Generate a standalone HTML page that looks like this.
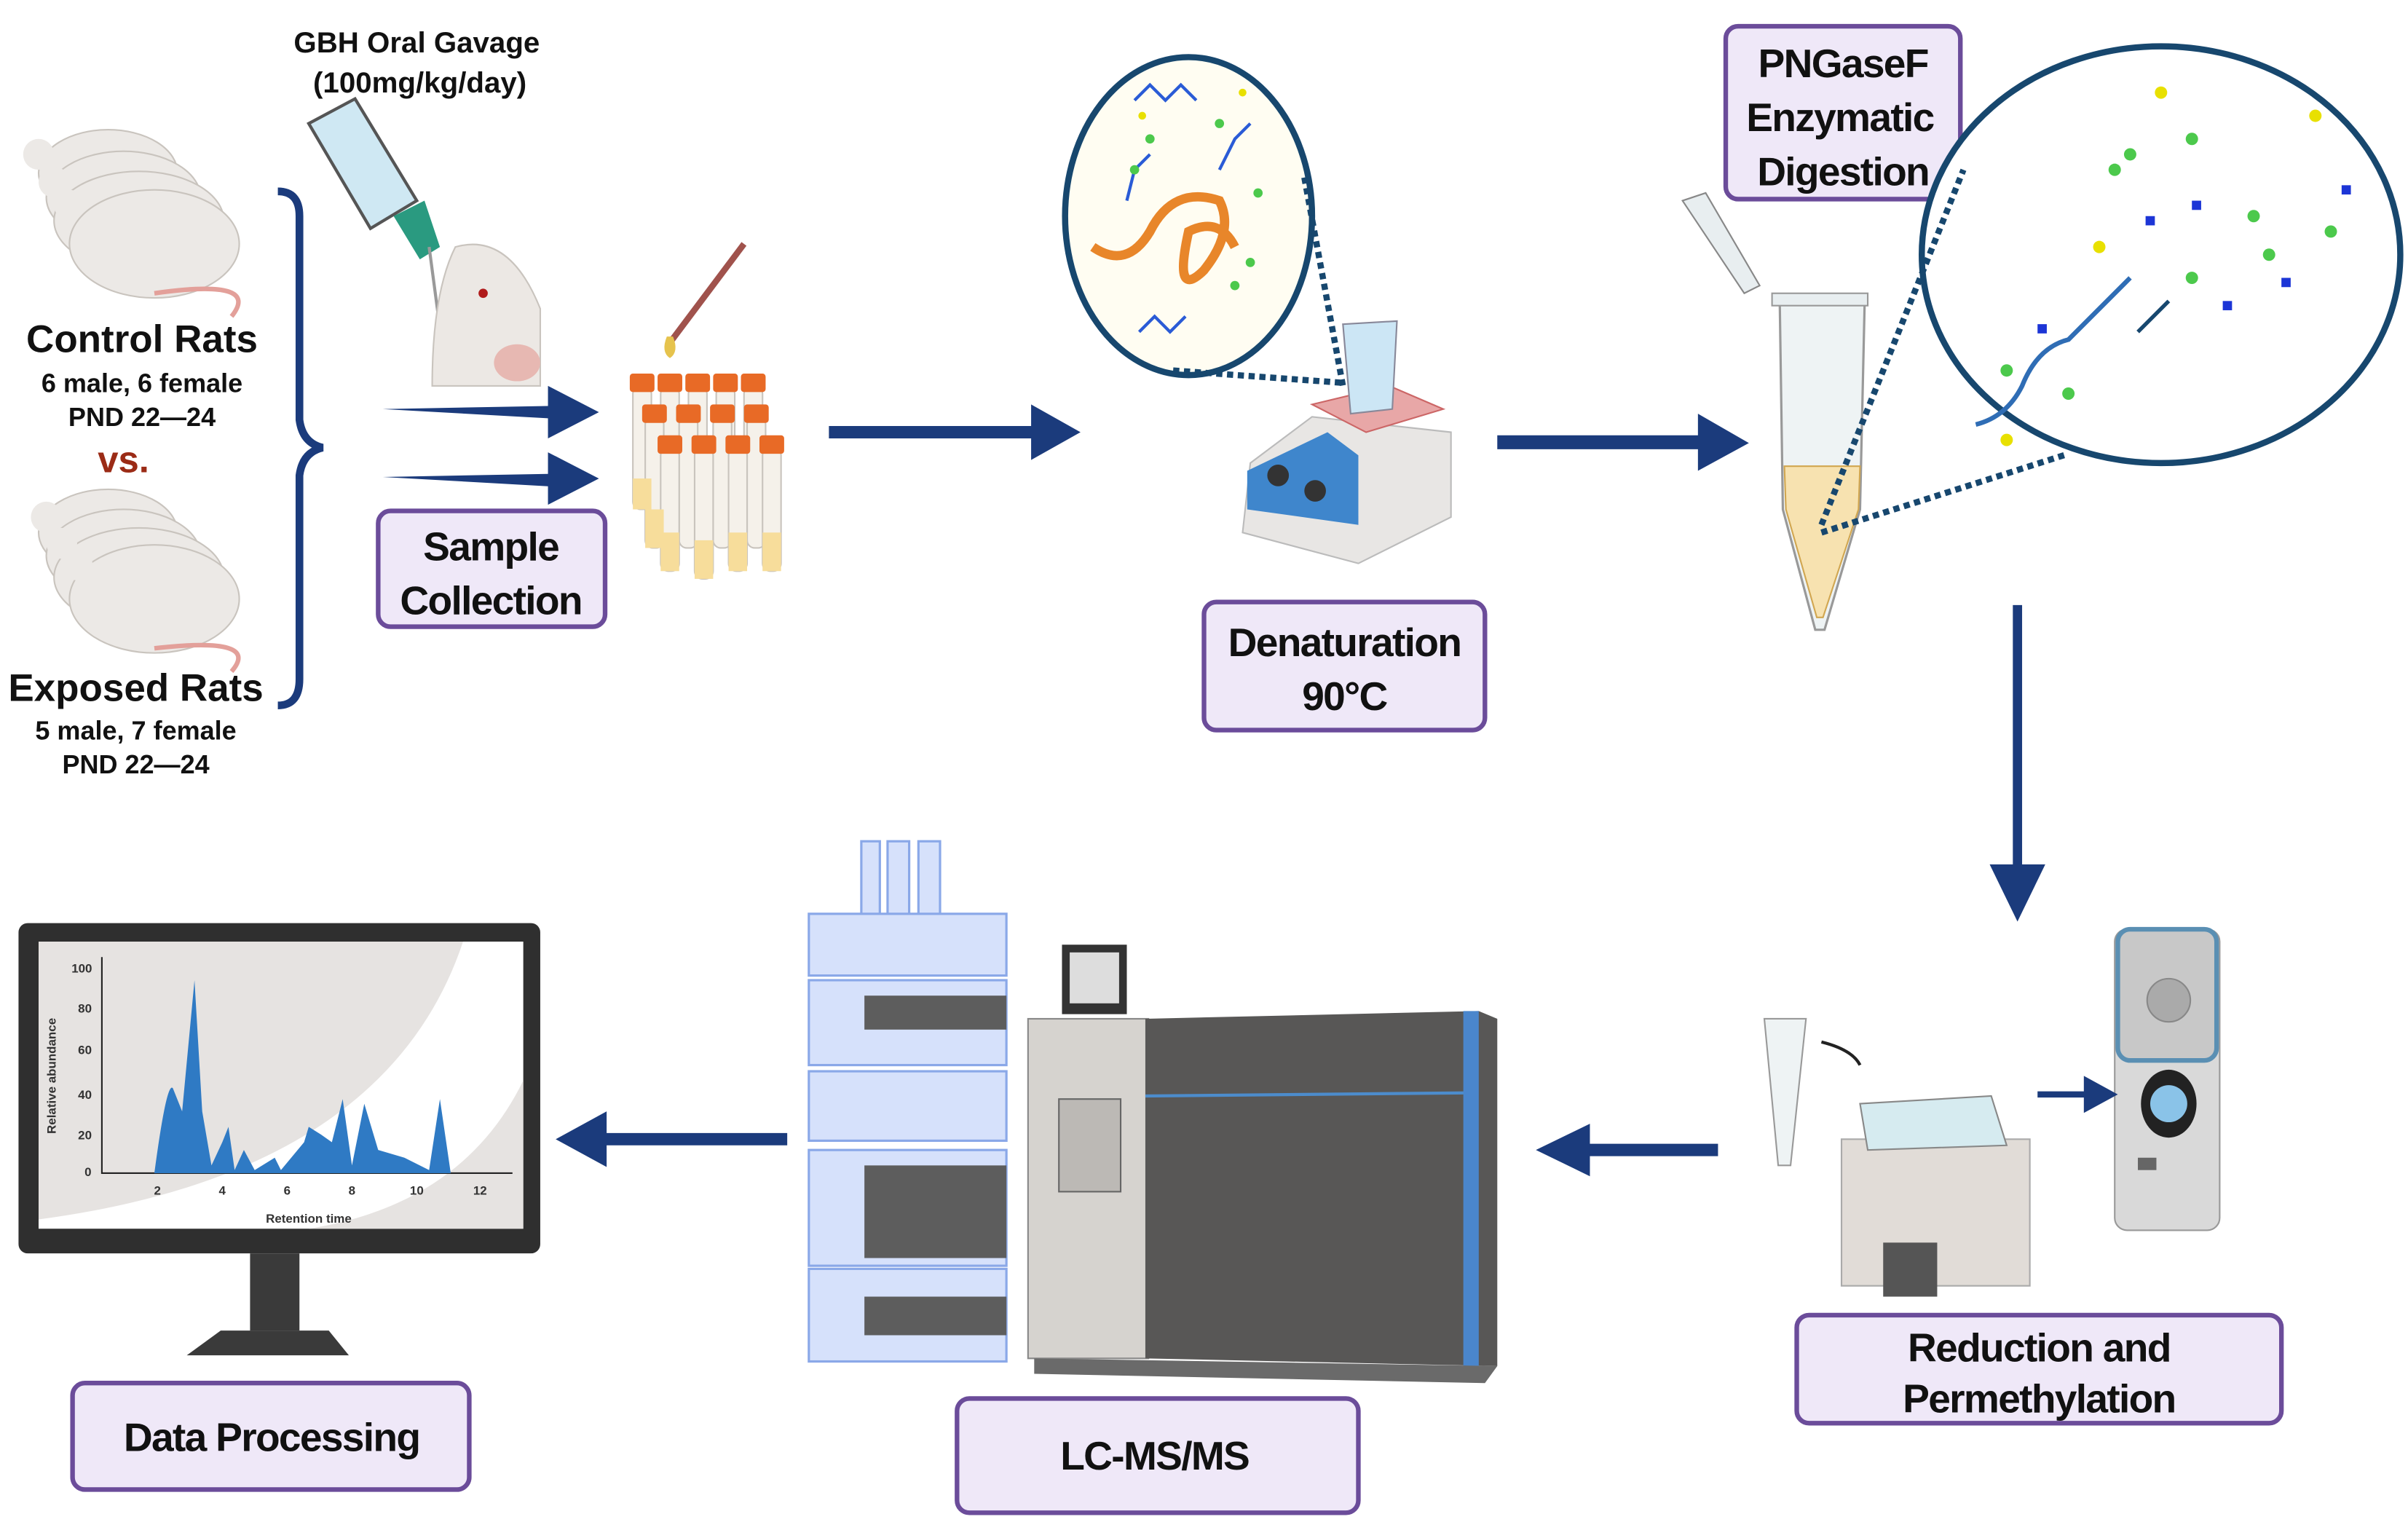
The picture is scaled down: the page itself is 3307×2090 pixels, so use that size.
<!DOCTYPE html>
<html><head><meta charset="utf-8"><style>
html,body{margin:0;padding:0;background:#fff;}
svg{display:block;}
text{font-family:"Liberation Sans",sans-serif;font-weight:bold;}
.bx{fill:#efe8f8;stroke:#6b4c9a;stroke-width:3;}
.lb{font-size:26px;fill:#111;text-anchor:middle;font-weight:bold;letter-spacing:-0.8px;}
.ar{fill:#1b3b7c;}
</style></head><body>
<svg width="3307" height="2090" viewBox="0 0 1560 986" preserveAspectRatio="none" xmlns="http://www.w3.org/2000/svg">
<rect width="1560" height="986" fill="#fff"/>
<!-- rats -->
<g fill="#ece9e6" stroke="#c9c4be" stroke-width="1">
<ellipse cx="70" cy="112" rx="45" ry="28"/><ellipse cx="80" cy="128" rx="50" ry="30"/><ellipse cx="90" cy="143" rx="55" ry="32"/><ellipse cx="100" cy="158" rx="55" ry="35"/>
<ellipse cx="70" cy="345" rx="45" ry="28"/><ellipse cx="80" cy="360" rx="50" ry="30"/><ellipse cx="90" cy="374" rx="55" ry="32"/><ellipse cx="100" cy="388" rx="55" ry="35"/>
</g>
<g fill="#ece9e6"><circle cx="25" cy="100" r="10"/><circle cx="35" cy="118" r="10"/><circle cx="45" cy="133" r="10"/><circle cx="30" cy="335" r="10"/><circle cx="40" cy="352" r="10"/><circle cx="50" cy="366" r="10"/></g>
<g fill="none" stroke="#e3a09a" stroke-width="3"><path d="M100 190 Q170 180 150 205"/><path d="M100 420 Q170 412 150 435"/></g>
<text x="92" y="228" font-size="25" text-anchor="middle" fill="#111">Control Rats</text>
<text x="92" y="254" font-size="17" text-anchor="middle" fill="#111">6 male, 6 female</text>
<text x="92" y="276" font-size="17" text-anchor="middle" fill="#111">PND 22—24</text>
<text x="80" y="306" font-size="24" text-anchor="middle" fill="#9b2b16">vs.</text>
<text x="88" y="454" font-size="25" text-anchor="middle" fill="#111">Exposed Rats</text>
<text x="88" y="479" font-size="17" text-anchor="middle" fill="#111">5 male, 7 female</text>
<text x="88" y="501" font-size="17" text-anchor="middle" fill="#111">PND 22—24</text>
<path d="M180 124 Q194 124 194 140 L194 272 Q196 287 209 290 Q196 293 194 308 L194 440 Q194 457 180 457" fill="none" stroke="#1b3b7c" stroke-width="5"/>
<!-- gavage -->
<text x="270" y="34" font-size="19" text-anchor="middle" fill="#111">GBH Oral Gavage</text>
<text x="272" y="60" font-size="19" text-anchor="middle" fill="#111">(100mg/kg/day)</text>
<path d="M200 80 L230 64 L270 130 L240 148 Z" fill="#cfe8f3" stroke="#555" stroke-width="2"/>
<path d="M255 140 L275 130 L285 160 L272 168 Z" fill="#2a9a80"/>
<path d="M278 160 L290 250" stroke="#999" stroke-width="2"/>
<path d="M280 250 Q280 190 295 160 Q330 150 350 200 L350 250 Z" fill="#ece8e4" stroke="#c9c4be"/>
<ellipse cx="335" cy="235" rx="15" ry="12" fill="#e7b8b2"/>
<circle cx="313" cy="190" r="3" fill="#b01b1b"/>
<!-- arrows -->
<path class="ar" d="M248 265 L355 263 L355 250 L388 267 L355 284 L355 271 Z"/>
<path class="ar" d="M248 309 L355 307 L355 293 L388 310 L355 327 L355 315 Z"/>
<rect class="bx" x="245" y="331" width="147" height="75" rx="8"/>
<text class="lb" x="318" y="363">Sample</text><text class="lb" x="318" y="398">Collection</text>
<path d="M434 222 L482 158" stroke="#a0524c" stroke-width="4"/><path d="M432 218 Q428 228 434 232 Q440 228 436 218Z" fill="#e6c34d"/>
<!-- tubes -->
<g>
<g fill="#f5f1ea" stroke="#c9c4bd">
<rect x="410" y="250" width="12" height="80" rx="5"/><rect x="428" y="250" width="12" height="80" rx="5"/><rect x="446" y="250" width="12" height="80" rx="5"/><rect x="464" y="250" width="12" height="80" rx="5"/><rect x="482" y="250" width="12" height="80" rx="5"/>
<rect x="418" y="270" width="12" height="85" rx="5"/><rect x="440" y="270" width="12" height="85" rx="5"/><rect x="462" y="270" width="12" height="85" rx="5"/><rect x="484" y="270" width="12" height="85" rx="5"/>
<rect x="428" y="290" width="12" height="80" rx="5"/><rect x="450" y="290" width="12" height="85" rx="5"/><rect x="472" y="290" width="12" height="80" rx="5"/><rect x="494" y="290" width="12" height="80" rx="5"/>
</g>
<g fill="#f7dd9b"><rect x="428" y="345" width="12" height="25"/><rect x="450" y="350" width="12" height="25"/><rect x="472" y="345" width="12" height="25"/><rect x="494" y="345" width="12" height="25"/><rect x="418" y="330" width="12" height="25"/><rect x="410" y="310" width="12" height="20"/></g>
<g fill="#e86a26">
<rect x="408" y="242" width="16" height="12" rx="2"/><rect x="426" y="242" width="16" height="12" rx="2"/><rect x="444" y="242" width="16" height="12" rx="2"/><rect x="462" y="242" width="16" height="12" rx="2"/><rect x="480" y="242" width="16" height="12" rx="2"/>
<rect x="416" y="262" width="16" height="12" rx="2"/><rect x="438" y="262" width="16" height="12" rx="2"/><rect x="460" y="262" width="16" height="12" rx="2"/><rect x="482" y="262" width="16" height="12" rx="2"/>
<rect x="426" y="282" width="16" height="12" rx="2"/><rect x="448" y="282" width="16" height="12" rx="2"/><rect x="470" y="282" width="16" height="12" rx="2"/><rect x="492" y="282" width="16" height="12" rx="2"/>
</g></g>
<path class="ar" d="M537 276 L668 276 L668 262 L700 280 L668 298 L668 284 L537 284 Z"/>
<!-- denaturation oval -->
<ellipse cx="770" cy="140" rx="80" ry="103" fill="#fffdf2" stroke="#17476e" stroke-width="4"/>
<path d="M708 160 Q730 175 745 150 Q760 120 790 130 Q800 150 780 175 Q760 195 770 150 Q790 140 800 160" fill="none" stroke="#e8862a" stroke-width="6"/>
<g stroke="#2a5bd6" stroke-width="2" fill="none"><path d="M735 65 L745 55 L755 65 L765 55 L775 65"/><path d="M738 215 L748 205 L758 215 L768 205"/><path d="M730 130 L735 110 L745 100 M790 110 L800 90 L810 80"/></g>
<g fill="#4cc94c"><circle cx="735" cy="110" r="3"/><circle cx="800" cy="185" r="3"/><circle cx="810" cy="170" r="3"/><circle cx="790" cy="80" r="3"/><circle cx="815" cy="125" r="3"/><circle cx="745" cy="90" r="3"/></g>
<g fill="#e8e000"><circle cx="740" cy="75" r="2.5"/><circle cx="805" cy="60" r="2.5"/></g>
<path d="M845 115 L870 250 M760 240 L870 248" stroke="#17476e" stroke-width="4" stroke-dasharray="4 3"/>
<!-- hotplate -->
<path d="M810 300 L850 270 L940 280 L940 335 L880 365 L805 345 Z" fill="#e8e6e4" stroke="#bbb"/>
<path d="M808 305 L860 280 L880 295 L880 340 L808 330 Z" fill="#3f86cc"/>
<circle cx="828" cy="308" r="7" fill="#333"/><circle cx="852" cy="318" r="7" fill="#333"/>
<path d="M850 262 L900 250 L935 265 L885 280 Z" fill="#e8a7a7" stroke="#c66"/>
<path d="M870 210 L905 208 L902 265 L875 268 Z" fill="#cce6f5" stroke="#889"/>
<rect class="bx" x="780" y="390" width="182" height="83" rx="8"/>
<text class="lb" x="871" y="425">Denaturation</text><text class="lb" x="871" y="460">90°C</text>
<path class="ar" d="M970 282 L1100 282 L1100 268 L1133 287 L1100 305 L1100 291 L970 291 Z"/>
<!-- PNGase box -->
<rect class="bx" x="1118" y="17" width="152" height="112" rx="8"/>
<text class="lb" x="1194" y="50">PNGaseF</text><text class="lb" x="1192" y="85">Enzymatic</text><text class="lb" x="1194" y="120">Digestion</text>
<!-- tube -->
<path d="M1090 130 L1105 125 L1140 185 L1130 190 Z" fill="#e8eef0" stroke="#888"/>
<path d="M1153 196 L1208 196 L1205 330 L1182 408 L1176 408 L1155 330 Z" fill="#eef3f4" stroke="#999" stroke-width="1.5"/>
<path d="M1156 302 L1205 302 L1204 330 L1181 400 L1177 400 L1157 330 Z" fill="#f7e2b0" stroke="#d1a650"/>
<rect x="1148" y="190" width="62" height="8" fill="#e8eef0" stroke="#999"/>
<!-- big oval -->
<ellipse cx="1400" cy="165" rx="155" ry="135" fill="#fff" stroke="#17476e" stroke-width="4"/>
<path d="M1180 340 L1272 110 M1180 345 L1340 294" stroke="#17476e" stroke-width="4" stroke-dasharray="4 3"/>
<path d="M1280 275 Q1300 270 1310 250 Q1320 225 1340 220 Q1360 200 1380 180" fill="none" stroke="#2f6db5" stroke-width="3"/>
<g fill="#4cc94c"><circle cx="1370" cy="110" r="4"/><circle cx="1380" cy="100" r="4"/><circle cx="1420" cy="90" r="4"/><circle cx="1460" cy="140" r="4"/><circle cx="1470" cy="165" r="4"/><circle cx="1420" cy="180" r="4"/><circle cx="1300" cy="240" r="4"/><circle cx="1340" cy="255" r="4"/><circle cx="1510" cy="150" r="4"/></g>
<g fill="#e8e000"><circle cx="1360" cy="160" r="4"/><circle cx="1400" cy="60" r="4"/><circle cx="1300" cy="285" r="4"/><circle cx="1500" cy="75" r="4"/></g>
<g fill="#1c35d6"><rect x="1390" y="140" width="6" height="6"/><rect x="1420" y="130" width="6" height="6"/><rect x="1440" y="195" width="6" height="6"/><rect x="1478" y="180" width="6" height="6"/><rect x="1517" y="120" width="6" height="6"/><rect x="1320" y="210" width="6" height="6"/></g>
<path d="M1385 215 L1405 195" stroke="#17476e" stroke-width="2.5"/>
<!-- down arrow -->
<path class="ar" d="M1304 392 L1310 392 L1310 560 L1325 560 L1307 597 L1289 560 L1304 560 Z"/>
<!-- centrifuge -->
<rect x="1370" y="602" width="68" height="195" rx="8" fill="#d9d9d9" stroke="#999"/>
<rect x="1372" y="602" width="64" height="85" rx="8" fill="#c8c8c8" stroke="#5a8fb3" stroke-width="3"/>
<circle cx="1405" cy="648" r="14" fill="#aaa" stroke="#888"/>
<ellipse cx="1405" cy="715" rx="18" ry="22" fill="#222"/><circle cx="1405" cy="715" r="12" fill="#8ac3e8"/>
<rect x="1385" y="750" width="12" height="8" fill="#666"/>
<path class="ar" d="M1320 707 L1350 707 L1350 697 L1372 709 L1350 721 L1350 711 L1320 711 Z"/>
<!-- water bath -->
<rect x="1193" y="738" width="122" height="95" fill="#e1dcd7" stroke="#aaa"/>
<path d="M1205 715 L1290 710 L1300 742 L1210 745 Z" fill="#d6ebf0" stroke="#888"/>
<rect x="1220" y="805" width="35" height="35" fill="#555"/>
<path d="M1143 660 L1170 660 L1160 755 L1152 755 Z" fill="#eef3f4" stroke="#999"/>
<path d="M1180 675 Q1200 680 1205 690" fill="none" stroke="#222" stroke-width="2"/>
<rect class="bx" x="1164" y="852" width="314" height="70" rx="8"/>
<text class="lb" x="1321" y="882">Reduction and</text><text class="lb" x="1321" y="915">Permethylation</text>
<path class="ar" d="M1113 741 L1030 741 L1030 728 L995 745 L1030 762 L1030 749 L1113 749 Z"/>
<!-- LC-MS -->
<g fill="#d6e1fb" stroke="#8aa8e8" stroke-width="1.5">
<rect x="558" y="545" width="12" height="50"/><rect x="575" y="545" width="14" height="50"/><rect x="595" y="545" width="14" height="50"/>
<rect x="524" y="592" width="128" height="40"/><rect x="524" y="635" width="128" height="55"/><rect x="524" y="694" width="128" height="45"/><rect x="524" y="745" width="128" height="75"/><rect x="524" y="822" width="128" height="60"/>
</g>
<g fill="#5d5d5d"><rect x="560" y="645" width="92" height="22"/><rect x="560" y="755" width="92" height="60"/><rect x="560" y="840" width="92" height="25"/></g>
<rect x="666" y="660" width="78" height="220" fill="#d6d3cf" stroke="#888"/>
<rect x="686" y="712" width="40" height="60" fill="#bcb9b5" stroke="#666"/>
<rect x="688" y="612" width="42" height="45" fill="#333"/><rect x="693" y="617" width="32" height="33" fill="#ddd"/>
<path d="M742 660 L958 655 L970 660 L970 885 L742 880 Z" fill="#585756"/>
<path d="M742 710 L950 708" stroke="#4c8ccc" stroke-width="2"/>
<path d="M948 655 L958 655 L958 885 L948 885 Z" fill="#4a86cc"/>
<path d="M670 880 L970 885 L962 896 L670 890 Z" fill="#6a6a6a"/>
<rect class="bx" x="620" y="906" width="260" height="74" rx="8"/>
<text class="lb" x="748" y="952">LC-MS/MS</text>
<path class="ar" d="M510 734 L393 734 L393 720 L360 738 L393 756 L393 742 L510 742 Z"/>
<!-- monitor -->
<rect x="12" y="598" width="338" height="214" rx="6" fill="#2f2f2f"/>
<rect x="25" y="610" width="314" height="186" fill="#fff"/>
<path d="M25 610 L300 610 Q250 760 25 790 Z" fill="#e6e3e1"/>
<path d="M339 700 Q300 780 200 796 L339 796 Z" fill="#e6e3e1"/>
<path d="M66 620 L66 760 L332 760" fill="none" stroke="#222" stroke-width="1"/>
<path d="M100 760 Q108 700 112 705 L118 720 L126 635 L131 720 L137 755 L144 740 L148 730 L152 758 L158 745 L165 758 L178 750 L182 758 L197 740 L200 730 L208 735 L215 740 L222 712 L228 755 L236 715 L245 745 L262 750 L278 758 L285 712 L292 760 Z" fill="#2f7ac4"/>
<g font-size="8" fill="#333" font-weight="normal" text-anchor="middle"><text x="102" y="774">2</text><text x="144" y="774">4</text><text x="186" y="774">6</text><text x="228" y="774">8</text><text x="270" y="774">10</text><text x="311" y="774">12</text>
<text x="53" y="630">100</text><text x="55" y="656">80</text><text x="55" y="683">60</text><text x="55" y="712">40</text><text x="55" y="738">20</text><text x="57" y="762">0</text>
<text x="200" y="792">Retention time</text>
<text transform="translate(36 697) rotate(-90)">Relative abundance</text></g>
<rect x="162" y="812" width="32" height="50" fill="#3a3a3a"/>
<path d="M143 862 L213 862 L226 878 L121 878 Z" fill="#3a3a3a"/>
<rect class="bx" x="47" y="896" width="257" height="69" rx="8"/>
<text class="lb" x="176" y="940">Data Processing</text>
</svg>
</body></html>
